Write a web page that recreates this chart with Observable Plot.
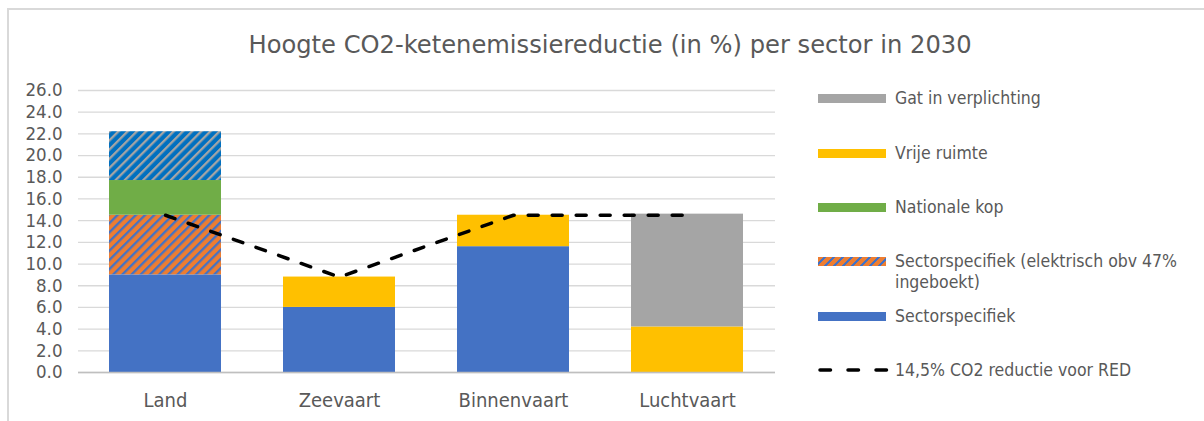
<!DOCTYPE html>
<html>
<head>
<meta charset="utf-8">
<script src="https://cdn.jsdelivr.net/npm/d3@7"></script>
<script src="https://cdn.jsdelivr.net/npm/@observablehq/plot@0.6"></script>
<style>
  html, body { margin: 0; padding: 0; background: #fff; }
  #wrap { position: relative; width: 1204px; height: 421px; overflow: hidden; font-family: "DejaVu Sans Condensed", "DejaVu Sans", sans-serif; color: #595959; }
  #frame { position: absolute; left: 7px; top: 8px; width: 1300px; height: 500px; border-left: 2px solid #D9D9D9; border-top: 2px solid #D9D9D9; }
  #title { position: absolute; left: 0; top: 33px; width: 1220px; text-align: center; font-family: "DejaVu Sans", sans-serif; font-size: 24.2px; line-height: 24px; color: #595959; white-space: nowrap; }
  #chart { position: absolute; left: 0; top: 0; }
  #legend { position: absolute; left: 818px; top: 0; font-size: 17.5px; color: #595959; }
  .li { position: absolute; left: 0; white-space: nowrap; }
  .sw { position: absolute; left: 0; width: 68px; height: 9.5px; }
  .lt { position: absolute; left: 77px; top: 0; line-height: 21px; }
</style>
</head>
<body>
<div id="wrap">
  <div id="frame"></div>
  <div id="title">Hoogte CO2-ketenemissiereductie (in %) per sector in 2030</div>
  <div id="chart"></div>
  <div id="legend"></div>
</div>
<script>
// ---- data ----
const categories = ["Land", "Zeevaart", "Binnenvaart", "Luchtvaart"];
const seriesNames = [
  "Sectorspecifiek",
  "Sectorspecifiek (elektrisch obv 47% ingeboekt)",
  "Nationale kop",
  "Land (gearceerd)",
  "Vrije ruimte",
  "Gat in verplichting"
];
const sectorspecifiek = [9.0, 6.0, 11.6, 0];
const elektrisch      = [5.5, 0, 0, 0];
const nationaleKop    = [3.2, 0, 0, 0];
const landGearceerd   = [4.5, 0, 0, 0];
const vrijeRuimte     = [0, 2.8, 2.9, 4.2];
const gatVerplichting = [0, 0, 0, 10.4];
const redLine         = [14.5, 8.8, 14.5, 14.5];
const yTicks = [0, 2, 4, 6, 8, 10, 12, 14, 16, 18, 20, 22, 24, 26];

const seriesValues = [sectorspecifiek, elektrisch, nationaleKop, landGearceerd, vrijeRuimte, gatVerplichting];
const seriesFills = ["#4472C4", "url(#hatchOrange)", "#70AD47", "url(#hatchBlue)", "#FFC000", "#A5A5A5"];

const bars = [];
categories.forEach((c, i) => {
  seriesNames.forEach((s, j) => {
    const v = seriesValues[j][i];
    if (v > 0) bars.push({cat: c, series: s, value: v});
  });
});
const lineData = categories.map((c, i) => ({cat: c, value: redLine[i]}));

const FONT = "DejaVu Sans Condensed, DejaVu Sans, sans-serif";
const chart = Plot.plot({
  width: 800,
  height: 421,
  marginTop: 90,
  marginBottom: 49,
  marginLeft: 78,
  marginRight: 25,
  style: {fontFamily: FONT, color: "#595959", background: "transparent"},
  x: {domain: categories, paddingInner: 0.354, paddingOuter: 0.17, label: null},
  y: {domain: [0, 26], label: null},
  color: {type: "ordinal", domain: seriesNames, range: seriesFills},
  marks: [
    Plot.gridY(yTicks, {stroke: "#D9D9D9", strokeOpacity: 1, strokeWidth: 1.3}),
    Plot.axisY(yTicks, {tickSize: 0, tickPadding: 16, tickFormat: d => d.toFixed(1), fontSize: 18.5, fill: "#595959", label: null}),
    Plot.axisX({tickSize: 0, tickPadding: 20, fontSize: 20, fill: "#595959", label: null}),
    Plot.barY(bars, {x: "cat", y: "value", fill: "series", order: seriesNames}),
    Plot.ruleY([0], {stroke: "#BFBFBF", strokeWidth: 1.5}),
    Plot.line(lineData, {x: "cat", y: "value", stroke: "#000", strokeWidth: 3.5, strokeDasharray: "10,14", strokeLinecap: "round"})
  ]
});

const svg = d3.select(chart);
const defs = svg.insert("defs", ":first-child");
function hatch(id, bg, fg) {
  const p = defs.append("pattern").attr("id", id).attr("patternUnits", "userSpaceOnUse")
    .attr("width", 6.5).attr("height", 6.5).attr("patternTransform", "rotate(45)");
  p.append("rect").attr("width", 6.5).attr("height", 6.5).attr("fill", bg);
  p.append("rect").attr("x", 0).attr("width", 2.3).attr("height", 6.5).attr("fill", fg);
}
hatch("hatchOrange", "#ED7D31", "#4472C4");
hatch("hatchBlue", "#0070C0", "#A5A5A5");
document.getElementById("chart").appendChild(chart);

// ---- legend ----
const legendItems = [
  {label: "Gat in verplichting", fill: "#A5A5A5", y: 98},
  {label: "Vrije ruimte", fill: "#FFC000", y: 153},
  {label: "Nationale kop", fill: "#70AD47", y: 207},
  {label: "Sectorspecifiek (elektrisch obv 47%<br>ingeboekt)", fill: "repeating-linear-gradient(-45deg, #ED7D31 0 4px, #4472C4 4px 6.3px)", y: 261},
  {label: "Sectorspecifiek", fill: "#4472C4", y: 316},
  {label: "14,5% CO2 reductie voor RED", line: true, y: 370}
];
const lg = document.getElementById("legend");
legendItems.forEach(it => {
  const d = document.createElement("div");
  d.className = "li";
  d.style.top = (it.y - 10) + "px";
  if (it.line) {
    d.innerHTML = `<svg class="sw" style="top:5px;height:10px;overflow:visible" width="70" height="10"><line x1="2" y1="5" x2="70" y2="5" stroke="#000" stroke-width="3.5" stroke-dasharray="10.5,17.5" stroke-linecap="round"/></svg><span class="lt">${it.label}</span>`;
  } else {
    d.innerHTML = `<div class="sw" style="top:5.5px;background:${it.fill}"></div><span class="lt">${it.label}</span>`;
  }
  lg.appendChild(d);
});
</script>
</body>
</html>
